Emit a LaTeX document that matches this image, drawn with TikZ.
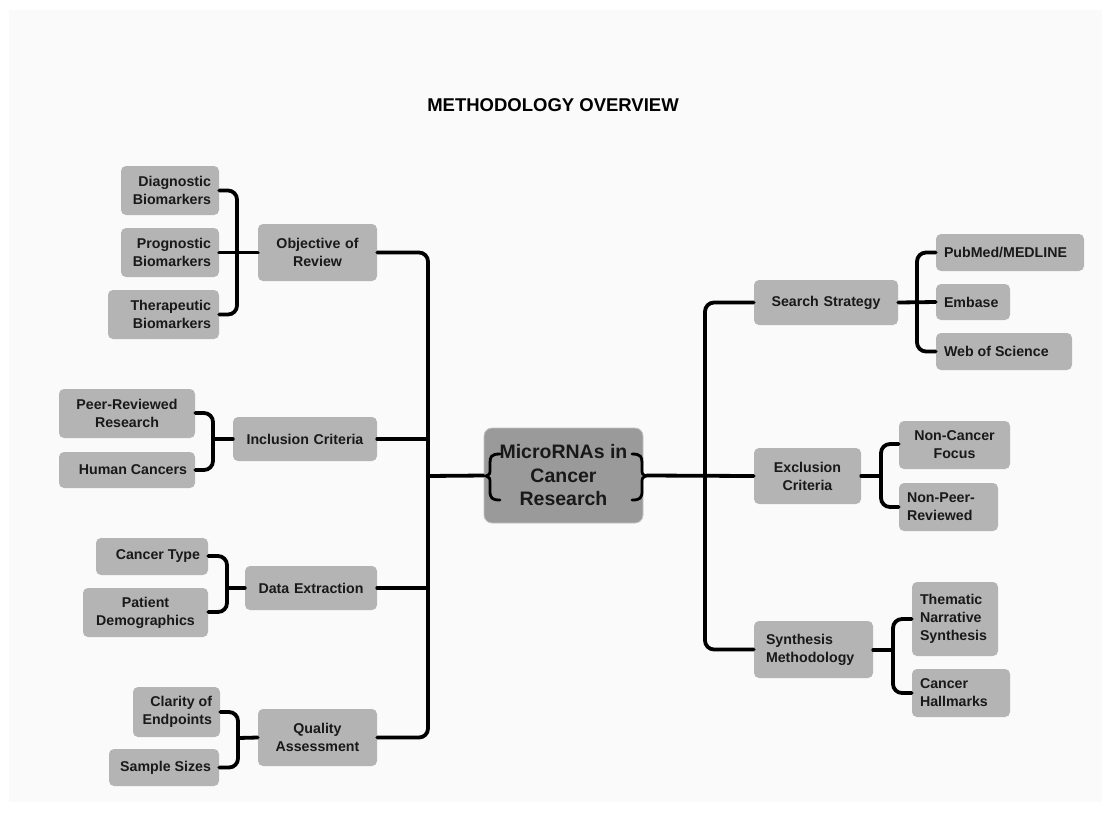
\documentclass[tikz,border=0pt]{standalone}
\usepackage{fontspec}
\setmainfont{Liberation Sans}
\definecolor{bgc}{HTML}{FAFAFA}
\definecolor{boxc}{HTML}{B4B4B4}
\definecolor{cenc}{HTML}{9A9A9A}
\definecolor{cenb}{HTML}{C4C4C4}
\tikzset{
  box/.style={fill=boxc, draw=none, rounded corners=5pt, inner sep=0pt,
    font=\bfseries\fontsize{14.2}{18}\selectfont, text=black!90},
  conn/.style={line width=3.8pt, black, rounded corners=9pt, line cap=round},
  brace/.style={line width=2.8pt, black, line cap=round},
}
\newcommand{\bx}[7]{%
  \pgfmathsetmacro\bxw{#4-#2}%
  \pgfmathsetmacro\bxh{#5-#3}%
  \pgfmathsetmacro\bxt{#4-#2-16}%
  \node[box, align=#6, minimum width=\bxw pt, minimum height=\bxh pt, text width=\bxt pt]
    (#1) at ({(#2+#4)/2},{(#3+#5)/2}) {#7};}
\begin{document}
\begin{tikzpicture}[x=1pt,y=-1pt]
\fill[white] (0,0) rectangle (1111,812);
\fill[bgc] (9,10) rectangle (1102,802);
\useasboundingbox (0,0) rectangle (1111,812);

\node[font=\bfseries\fontsize{18.5}{22}\selectfont] (title) at (553,105) {METHODOLOGY OVERVIEW};

% center
\node[fill=cenc, draw=cenb, line width=0.8pt, rounded corners=8pt, minimum width=159pt, minimum height=95pt,
  inner sep=0pt, align=center, font=\bfseries\fontsize{19.5}{23.5}\selectfont, text=black!90]
  (center) at (563.5,475.5) {MicroRNAs in\\Cancer\\Research};
\draw[brace] (500,454) .. controls (491,454) and (490,457) .. (490,463) -- (490,469)
  .. controls (490,474) .. (486,476) .. controls (490,478) .. (490,483) -- (490,491)
  .. controls (490,498) and (492,500) .. (500,500);
\draw[brace] (632,454) .. controls (641,454) and (642,457) .. (642,463) -- (642,469)
  .. controls (642,474) .. (646,476) .. controls (642,478) .. (642,483) -- (642,491)
  .. controls (642,498) and (640,500) .. (632,500);

% left level 1
\bx{obj}{258}{224}{377}{281}{center}{Objective of\\Review}
\bx{inc}{233}{417}{377}{461}{center}{Inclusion Criteria}
\bx{dex}{245}{566}{377}{610}{center}{Data Extraction}
\bx{qa}{258}{709}{377}{766}{center}{Quality\\Assessment}

% left level 2
\bx{diag}{121}{166}{219}{215}{flush right}{Diagnostic\\Biomarkers}
\bx{prog}{121}{228}{219}{277}{flush right}{Prognostic\\Biomarkers}
\bx{ther}{108}{290}{219}{339}{flush right}{Therapeutic\\Biomarkers}
\bx{peer}{59}{389}{195}{438}{center}{Peer-Reviewed\\Research}
\bx{human}{59}{452}{195}{488}{flush right}{Human Cancers}
\bx{ctype}{96}{538}{208}{575}{flush right}{Cancer Type}
\bx{pat}{83}{588}{208}{637}{center}{Patient\\Demographics}
\bx{clar}{133}{687}{220}{737}{flush right}{Clarity of\\Endpoints}
\bx{samp}{109}{749}{219}{786}{flush right}{Sample Sizes}

% right level 1
\bx{ss}{754}{280}{898}{325}{center}{Search Strategy}
\bx{exc}{754}{448}{861}{504}{center}{Exclusion\\Criteria}
\bx{syn}{754}{621}{873}{678}{flush left}{\hspace*{4pt}Synthesis\\\hspace*{4pt}Methodology}

% right level 2
\bx{pub}{936}{234}{1084}{271}{flush left}{PubMed/MEDLINE}
\bx{emb}{936}{284}{1010}{320}{flush left}{Embase}
\bx{wos}{936}{333}{1072}{370}{flush left}{Web of Science}
\bx{ncf}{899}{421}{1010}{469}{center}{Non-Cancer\\Focus}
\bx{npr}{899}{483}{998}{531}{flush left}{Non-Peer-\\Reviewed}
\bx{them}{912}{582}{998}{656}{flush left}{Thematic\\Narrative\\Synthesis}
\bx{hall}{912}{669}{1010}{717}{flush left}{Cancer\\Hallmarks}

% trunk coordinates
\coordinate (lt) at (428,476);
\coordinate (rt) at (705,476);
\coordinate (bobj) at (237,253);
\coordinate (binc) at (213,439);
\coordinate (bdex) at (227,588);
\coordinate (bqa) at (238,738);
\coordinate (bss) at (917,302);
\coordinate (bexc) at (881,476);
\coordinate (bsyn) at (893,650);

% left trunk
\draw[conn] (obj.east) -| (lt);
\draw[conn] (qa.east) -| (lt);
\draw[conn] (inc.east) -- (inc.east -| lt);
\draw[conn] (dex.east) -- (dex.east -| lt);
\draw[conn] (lt) -- (center.west);

% right trunk
\draw[conn] (ss.west) -| (rt);
\draw[conn] (syn.west) -| (rt);
\draw[conn] (center.east) ++(3,0) -- (exc.west);

% left brackets
\draw[conn] (diag.east) -| (bobj);
\draw[conn] (ther.east) -| (bobj);
\draw[conn] (prog.east) -- (obj.west);

\draw[conn] (peer.east |- 0,413) -| (binc);
\draw[conn] (human.east |- 0,470) -| (binc);
\draw[conn] (binc) -- (inc.west);

\draw[conn] (ctype.east |- 0,556) -| (bdex);
\draw[conn] (pat.east |- 0,612) -| (bdex);
\draw[conn] (bdex) -- (dex.west);

\draw[conn] (clar.east |- 0,712) -| (bqa);
\draw[conn] (samp.east) -| (bqa);
\draw[conn] (bqa) -- (qa.west);

% right brackets
\draw[conn] (pub.west) -| (bss);
\draw[conn] (wos.west) -| (bss);
\draw[conn] (ss.east) -- (emb.west);

\draw[conn] (ncf.west |- 0,444) -| (bexc);
\draw[conn] (npr.west |- 0,507) -| (bexc);
\draw[conn] (exc.east) -- (bexc);

\draw[conn] (them.west |- 0,619) -| (bsyn);
\draw[conn] (hall.west) -| (bsyn);
\draw[conn] (syn.east |- 0,650) -- (bsyn);
\end{tikzpicture}
\end{document}
